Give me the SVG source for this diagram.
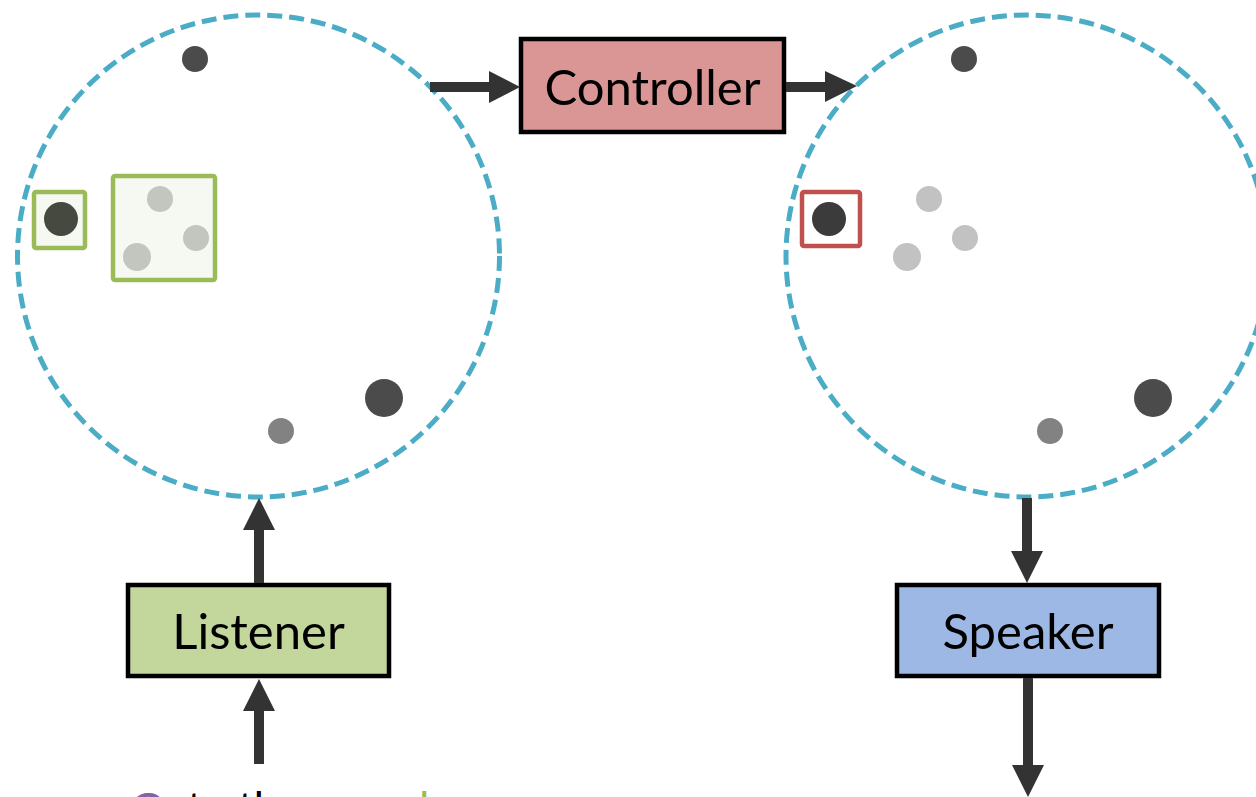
<svg xmlns="http://www.w3.org/2000/svg" width="1256" height="797" viewBox="0 0 1256 797">
  <style>
    .space { fill: none; stroke: #4BACC6; stroke-width: 5; stroke-dasharray: 15 7; }
    .box { stroke: #000; stroke-width: 4.5; }
    .label { font-family: Lato, "Open Sans", "Liberation Sans", sans-serif; font-size: 49px; fill: #000; text-anchor: middle; }
    .dark { fill: #4b4b4b; }
    .mid { fill: #828282; }
    .light { fill: #c2c2c2; }
    .conn { stroke: #333; stroke-width: 10; fill: none; }
    .head { fill: #333; }
    .caption { font-family: Lato, "Open Sans", "Liberation Sans", sans-serif; font-size: 44px; }
  </style>
  <defs>
    <filter id="soft" x="-20%" y="-20%" width="140%" height="140%">
      <feGaussianBlur stdDeviation="0.7"/>
    </filter>
  </defs>
  <rect width="1256" height="797" fill="#fff"/>

  <!-- listener-side embedding space -->
  <g id="space-left">
    <circle class="space" cx="258.5" cy="256" r="241"/>
    <g filter="url(#soft)">
      <circle class="dark" cx="195" cy="59" r="13"/>
      <circle class="dark" cx="384" cy="398" r="19"/>
      <circle class="mid" cx="281" cy="431" r="13"/>
    </g>
    <g id="target-left">
      <rect x="34" y="192" width="51" height="56" rx="2" fill="#f6f9f2" stroke="#9BBB59" stroke-width="4.5"/>
      <circle cx="61" cy="219" r="17" fill="#454a40" filter="url(#soft)"/>
    </g>
    <g id="distractors-left">
      <rect x="113" y="176" width="102" height="104" rx="2" fill="#f6f9f2" stroke="#9BBB59" stroke-width="4.5"/>
      <g filter="url(#soft)" fill="#c3c6bf">
        <circle cx="160" cy="199" r="13"/>
        <circle cx="196" cy="238" r="13"/>
        <circle cx="137" cy="257" r="14"/>
      </g>
    </g>
  </g>

  <!-- speaker-side embedding space -->
  <g id="space-right">
    <circle class="space" cx="1027" cy="256" r="241"/>
    <g filter="url(#soft)">
      <circle class="dark" cx="964" cy="59" r="13"/>
      <circle class="dark" cx="1153" cy="398" r="19"/>
      <circle class="mid" cx="1050" cy="431" r="13"/>
      <circle class="light" cx="929" cy="199" r="13"/>
      <circle class="light" cx="965" cy="238" r="13"/>
      <circle class="light" cx="907" cy="257" r="14"/>
    </g>
    <g id="target-right">
      <rect x="802" y="192" width="58" height="54" rx="2" fill="#fff" stroke="#C0504D" stroke-width="4.5"/>
      <circle cx="829" cy="219" r="17" fill="#3a3a3a" filter="url(#soft)"/>
    </g>
  </g>

  <!-- modules -->
  <g id="controller">
    <rect class="box" x="521" y="39" width="263" height="93" fill="#D99694"/>
    <text class="label" x="652.5" y="105">Controller</text>
  </g>
  <g id="listener">
    <rect class="box" x="128" y="585" width="261" height="91" fill="#C3D69B"/>
    <text class="label" x="258.5" y="649">Listener</text>
  </g>
  <g id="speaker">
    <rect class="box" x="897" y="585" width="262" height="91" fill="#9DB8E4"/>
    <text class="label" x="1028" y="649">Speaker</text>
  </g>

  <!-- connectors -->
  <g id="connectors">
    <line class="conn" x1="430" y1="87" x2="492" y2="87"/>
    <polygon class="head" points="489,71 520,87 489,103"/>
    <line class="conn" x1="786" y1="87" x2="828" y2="87"/>
    <polygon class="head" points="825,71 857,86 825,102"/>
    <line class="conn" x1="259" y1="583" x2="259" y2="527"/>
    <polygon class="head" points="243,530 259,498 275,530"/>
    <line class="conn" x1="259" y1="764" x2="259" y2="708"/>
    <polygon class="head" points="243,711 259,679 275,711"/>
    <line class="conn" x1="1027" y1="498" x2="1027" y2="554"/>
    <polygon class="head" points="1011,551 1027,583 1043,551"/>
    <line class="conn" x1="1028" y1="678" x2="1028" y2="768"/>
    <polygon class="head" points="1012,765 1028,797 1044,765"/>
  </g>

  <!-- utterance, mostly below the visible edge -->
  <g id="utterance">
    <text class="caption" x="130" y="825" fill="#8064A2">Go</text>
    <text class="caption" x="187" y="824" fill="#000">to <tspan x="238">the</tspan></text>
    <text class="caption" x="419" y="824" fill="#9BBB59">lower</text>
  </g>
</svg>
